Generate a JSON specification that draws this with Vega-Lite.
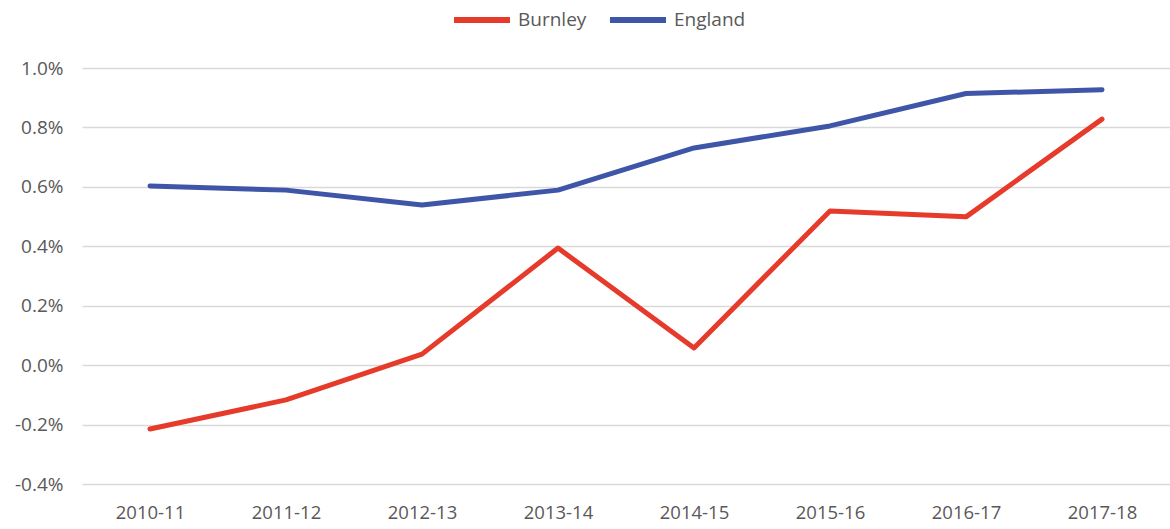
{
  "$schema": "https://vega.github.io/schema/vega-lite/v6.json",
  "width": 1088,
  "height": 416,
  "autosize": {"type": "none"},
  "padding": {"left": 82, "top": 68, "right": 0, "bottom": 45},
  "background": "white",
  "config": {
    "view": {"stroke": null},
    "font": "Open Sans"
  },
  "data": {
    "values": [
      {"year": "2010-11", "area": "Burnley", "value": -0.00215},
      {"year": "2011-12", "area": "Burnley", "value": -0.00117},
      {"year": "2012-13", "area": "Burnley", "value": 0.00037},
      {"year": "2013-14", "area": "Burnley", "value": 0.00394},
      {"year": "2014-15", "area": "Burnley", "value": 0.00058},
      {"year": "2015-16", "area": "Burnley", "value": 0.00519},
      {"year": "2016-17", "area": "Burnley", "value": 0.00499},
      {"year": "2017-18", "area": "Burnley", "value": 0.00828},
      {"year": "2010-11", "area": "England", "value": 0.00603},
      {"year": "2011-12", "area": "England", "value": 0.00589},
      {"year": "2012-13", "area": "England", "value": 0.00539},
      {"year": "2013-14", "area": "England", "value": 0.00589},
      {"year": "2014-15", "area": "England", "value": 0.00731},
      {"year": "2015-16", "area": "England", "value": 0.00805},
      {"year": "2016-17", "area": "England", "value": 0.00914},
      {"year": "2017-18", "area": "England", "value": 0.00927}
    ]
  },
  "mark": {"type": "line", "strokeWidth": 5, "strokeCap": "round", "strokeJoin": "round"},
  "encoding": {
    "x": {
      "field": "year",
      "type": "ordinal",
      "scale": {"type": "point", "padding": 0.5},
      "axis": {
        "title": null,
        "labelAngle": 0,
        "domain": false,
        "ticks": false,
        "grid": false,
        "labelFontSize": 18.5,
        "labelColor": "#595959",
        "labelPadding": 19,
        "labelFont": "Open Sans"
      }
    },
    "y": {
      "field": "value",
      "type": "quantitative",
      "scale": {"domain": [-0.004, 0.01], "nice": false, "zero": false},
      "axis": {
        "title": null,
        "format": ".1%",
        "labelExpr": "replace(datum.label, '\u2212', '-')",
        "values": [-0.004, -0.002, 0, 0.002, 0.004, 0.006, 0.008, 0.01],
        "domain": false,
        "ticks": false,
        "grid": true,
        "gridColor": "#d9d9d9",
        "gridWidth": 1.5,
        "labelFontSize": 19,
        "labelColor": "#595959",
        "labelPadding": 19,
        "labelFont": "Open Sans"
      }
    },
    "color": {
      "field": "area",
      "type": "nominal",
      "scale": {"domain": ["Burnley", "England"], "range": ["#E63A2B", "#3F56A8"]},
      "legend": {
        "title": null,
        "orient": "none",
        "direction": "horizontal",
        "legendX": 369,
        "legendY": -79,
        "symbolType": "stroke",
        "symbolSize": 3136,
        "symbolStrokeWidth": 6,
        "labelFontSize": 19,
        "labelColor": "#595959",
        "labelOffset": 5,
        "columnPadding": 11,
        "labelFont": "Open Sans"
      }
    }
  }
}
